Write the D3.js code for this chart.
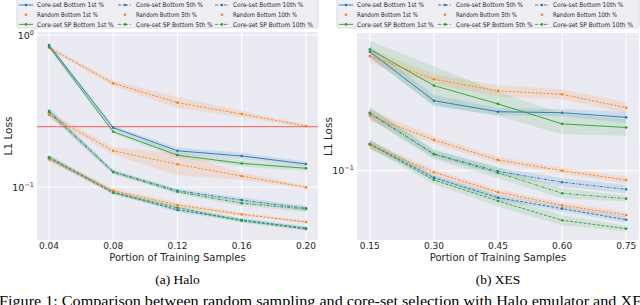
<!DOCTYPE html>
<html>
<head>
<meta charset="utf-8">
<script src="https://cdn.jsdelivr.net/npm/d3@7"></script>
<style>
  body { margin: 0; background: #fff; }
  svg { display: block; }
  text { font-family: "DejaVu Sans", sans-serif; }
</style>
</head>
<body>
<svg id="chart" width="640" height="305"></svg>
<script>
// x values for each panel
var xHalo = [0.04, 0.08, 0.12, 0.16, 0.20]
var xXes = [0.15, 0.30, 0.45, 0.60, 0.75]
var xHaloTicks = ["0.04", "0.08", "0.12", "0.16", "0.20"]
var xXesTicks = ["0.15", "0.30", "0.45", "0.60", "0.75"]

var methods = ["Core-set", "Random", "Core-set SP"]
var levels = ["1st", "5th", "10th"]

// Halo: L1 loss per method / level
var haloCore1 = [0.859, 0.2455, 0.173, 0.160, 0.1417]
var haloRand1 = [0.825, 0.481, 0.359, 0.302, 0.252]
var haloSP1 = [0.838, 0.231, 0.162, 0.143, 0.1328]
var haloCore5 = [0.316, 0.126, 0.0945, 0.0821, 0.0724]
var haloRand5 = [0.2977, 0.173, 0.141, 0.118, 0.0995]
var haloSP5 = [0.310, 0.125, 0.093, 0.0781, 0.0716]
var haloCore10 = [0.1568, 0.0923, 0.0706, 0.0607, 0.0535]
var haloRand10 = [0.152, 0.0945, 0.0761, 0.0661, 0.0589]
var haloSP10 = [0.156, 0.0915, 0.0731, 0.0600, 0.0530]

// Halo: relative half width of the shaded band
var haloCore1Err = [0.03, 0.03, 0.05, 0.05, 0.04]
var haloRand1Err = [0.03, 0.04, 0.09, 0.05, 0.02]
var haloSP1Err = [0.03, 0.03, 0.04, 0.05, 0.04]
var haloCore5Err = [0.06, 0.03, 0.03, 0.04, 0.04]
var haloRand5Err = [0.05, 0.06, 0.18, 0.06, 0.02]
var haloSP5Err = [0.05, 0.03, 0.03, 0.04, 0.04]
var haloCore10Err = [0.04, 0.03, 0.03, 0.03, 0.03]
var haloRand10Err = [0.04, 0.04, 0.04, 0.03, 0.02]
var haloSP10Err = [0.04, 0.03, 0.03, 0.03, 0.03]

// XES
var xesCore1 = [0.504, 0.259, 0.223, 0.220, 0.2065]
var xesRand1 = [0.475, 0.347, 0.296, 0.2825, 0.2355]
var xesSP1 = [0.521, 0.318, 0.248, 0.189, 0.180]
var xesCore5 = [0.218, 0.1256, 0.0992, 0.0855, 0.0777]
var xesRand5 = [0.211, 0.152, 0.1156, 0.100, 0.0881]
var xesSP5 = [0.220, 0.1250, 0.0973, 0.0736, 0.0684]
var xesCore10 = [0.1438, 0.091, 0.0693, 0.0597, 0.0514]
var xesRand10 = [0.142, 0.0979, 0.0746, 0.0625, 0.0548]
var xesSP10 = [0.1438, 0.0881, 0.0663, 0.0510, 0.0455]

var xesCore1Err = [0.08, 0.08, 0.05, 0.05, 0.08]
var xesRand1Err = [0.10, 0.07, 0.08, 0.07, 0.08]
var xesSP1Err = [0.12, 0.30, 0.18, 0.15, 0.12]
var xesCore5Err = [0.08, 0.05, 0.05, 0.06, 0.06]
var xesRand5Err = [0.08, 0.05, 0.05, 0.04, 0.05]
var xesSP5Err = [0.08, 0.07, 0.08, 0.07, 0.04]
var xesCore10Err = [0.06, 0.04, 0.04, 0.04, 0.04]
var xesRand10Err = [0.06, 0.04, 0.04, 0.04, 0.04]
var xesSP10Err = [0.06, 0.06, 0.08, 0.07, 0.04]

var haloThreshold = 0.25

var colors = {"Core-set": "#1f77b4", "Random": "#ff7f0e", "Core-set SP": "#2ca02c"}
var dashes = {"1st": null, "5th": "3,1.5,1,1.5", "10th": "3,1.5"}

function buildSeries(vals, errs) {
    var out = []
    levels.forEach(function (lv, li) {
        methods.forEach(function (m, mi) {
            out.push({method: m, level: lv, values: vals[li][mi], err: errs[li][mi]})
        })
    })
    return out
}

var haloSeries = buildSeries(
    [[haloCore1, haloRand1, haloSP1], [haloCore5, haloRand5, haloSP5], [haloCore10, haloRand10, haloSP10]],
    [[haloCore1Err, haloRand1Err, haloSP1Err], [haloCore5Err, haloRand5Err, haloSP5Err], [haloCore10Err, haloRand10Err, haloSP10Err]])
var xesSeries = buildSeries(
    [[xesCore1, xesRand1, xesSP1], [xesCore5, xesRand5, xesSP5], [xesCore10, xesRand10, xesSP10]],
    [[xesCore1Err, xesRand1Err, xesSP1Err], [xesCore5Err, xesRand5Err, xesSP5Err], [xesCore10Err, xesRand10Err, xesSP10Err]])

var svg = d3.select("#chart")

function drawPanel(opt) {
    var g = svg.append("g")
    var x = d3.scaleLinear().domain(opt.xDomain).range([opt.left, opt.right])
    var y = d3.scaleLog().domain(opt.yDomain).range([opt.bottom, opt.top])

    g.append("rect")
        .attr("x", opt.left).attr("y", opt.top)
        .attr("width", opt.right - opt.left).attr("height", opt.bottom - opt.top)
        .attr("fill", "#eaeaf2")

    // grid
    g.selectAll(".vg").data(opt.xs).enter().append("line")
        .attr("x1", d => x(d)).attr("x2", d => x(d))
        .attr("y1", opt.top).attr("y2", opt.bottom)
        .attr("stroke", "#fff").attr("stroke-width", 1)
    g.selectAll(".hg").data(opt.yTicks).enter().append("line")
        .attr("x1", opt.left).attr("x2", opt.right)
        .attr("y1", d => y(d)).attr("y2", d => y(d))
        .attr("stroke", "#fff").attr("stroke-width", 1)

    var area = d3.area()
        .x((d, i) => x(opt.xs[i]))
        .y0(d => y(d[0])).y1(d => y(d[1]))
    var line = d3.line().x((d, i) => x(opt.xs[i])).y(d => y(d))

    opt.series.forEach(function (s) {
        var band = s.values.map((v, i) => [v / (1 + s.err[i]), v * (1 + s.err[i])])
        g.append("path").datum(band)
            .attr("d", area)
            .attr("fill", colors[s.method]).attr("fill-opacity", 0.13)
    })

    if (opt.threshold) {
        g.append("line")
            .attr("x1", opt.left).attr("x2", opt.right)
            .attr("y1", y(opt.threshold)).attr("y2", y(opt.threshold))
            .attr("stroke", "#ee7b7b").attr("stroke-width", 1.2)
    }

    opt.series.forEach(function (s) {
        var dash = s.method == "Random" ? "2.2,1.6" : dashes[s.level]
        g.append("path").datum(s.values)
            .attr("d", line)
            .attr("fill", "none")
            .attr("stroke", colors[s.method]).attr("stroke-width", 0.9)
            .attr("stroke-dasharray", dash)
        g.selectAll(null).data(s.values).enter().append("circle")
            .attr("cx", (d, i) => x(opt.xs[i])).attr("cy", d => y(d))
            .attr("r", 1.3).attr("fill", colors[s.method])
    })

    // x tick labels
    g.selectAll(".xt").data(opt.xs).enter().append("text")
        .attr("x", d => x(d)).attr("y", opt.bottom + 9)
        .attr("text-anchor", "middle").attr("font-size", 9).attr("fill", "#262626")
        .text((d, i) => opt.xTickLabels[i])
    g.append("text")
        .attr("x", (opt.left + opt.right) / 2).attr("y", opt.bottom + 20.5)
        .attr("text-anchor", "middle").attr("font-size", 10).attr("fill", "#262626")
        .text("Portion of Training Samples")

    // y tick labels
    opt.yTicks.forEach(function (t) {
        var e = Math.round(Math.log10(t))
        var tx = g.append("text")
            .attr("x", opt.left - 3).attr("y", y(t) + 3.5)
            .attr("text-anchor", "end").attr("font-size", 9.5).attr("fill", "#262626")
        tx.append("tspan").text("10")
        tx.append("tspan").attr("dy", -4).attr("font-size", 6.5).text(e == 0 ? "0" : "\u2212" + (-e))
    })
    g.append("text")
        .attr("transform", `translate(${opt.left - 25},${(opt.top + opt.bottom) / 2}) rotate(-90)`)
        .attr("text-anchor", "middle").attr("font-size", 10.5).attr("fill", "#262626")
        .text("L1 Loss")

    // legend
    var lg = svg.append("g")
    lg.append("rect")
        .attr("x", opt.legendX).attr("y", -3)
        .attr("width", opt.legendW).attr("height", 31).attr("rx", 2)
        .attr("fill", "#eeeef4").attr("stroke", "#d2d2da").attr("stroke-width", 0.8)
    var colX = [0, 99, 196]
    levels.forEach(function (lv, ci) {
        methods.forEach(function (m, ri) {
            var lx = opt.legendX + 2 + colX[ci]
            var ly = 5 + ri * 9.7
            if (m != "Random") {
                lg.append("line")
                    .attr("x1", lx).attr("x2", lx + 14).attr("y1", ly).attr("y2", ly)
                    .attr("stroke", colors[m]).attr("stroke-width", 0.9)
                    .attr("stroke-dasharray", dashes[lv])
            }
            lg.append("circle").attr("cx", lx + 7).attr("cy", ly).attr("r", 1.3).attr("fill", colors[m])
            var label = m + " Bottom " + lv + " %"
            lg.append("text")
                .attr("x", lx + 18).attr("y", ly + 2.4)
                .attr("font-size", 6.4).attr("fill", "#262626")
                .attr("textLength", label.length * 3.2).attr("lengthAdjust", "spacingAndGlyphs")
                .text(label)
        })
    })

    svg.append("text")
        .attr("x", (opt.left + opt.right) / 2).attr("y", 284)
        .attr("text-anchor", "middle")
        .style("font-family", "'Liberation Serif', serif").attr("font-size", 13.5)
        .text(opt.caption)
}

drawPanel({
    left: 37, right: 318, top: 32, bottom: 240,
    xDomain: [0.0325, 0.2075], yDomain: [0.0448, 1.047],
    xs: xHalo, xTickLabels: xHaloTicks, yTicks: [1, 0.1],
    series: haloSeries, threshold: haloThreshold,
    legendX: 17, legendW: 301, caption: "(a) Halo"
})
drawPanel({
    left: 357, right: 639, top: 33, bottom: 240,
    xDomain: [0.12, 0.78], yDomain: [0.039, 0.65],
    xs: xXes, xTickLabels: xXesTicks, yTicks: [0.1],
    series: xesSeries, threshold: null,
    legendX: 337, legendW: 302, caption: "(b) XES"
})

svg.append("text")
    .attr("x", -1).attr("y", 306)
    .attr("textLength", 652).attr("lengthAdjust", "spacingAndGlyphs")
    .style("font-family", "'Liberation Serif', serif").attr("font-size", 15)
    .text("Figure 1: Comparison between random sampling and core-set selection with Halo emulator and XES")
</script>
</body>
</html>
